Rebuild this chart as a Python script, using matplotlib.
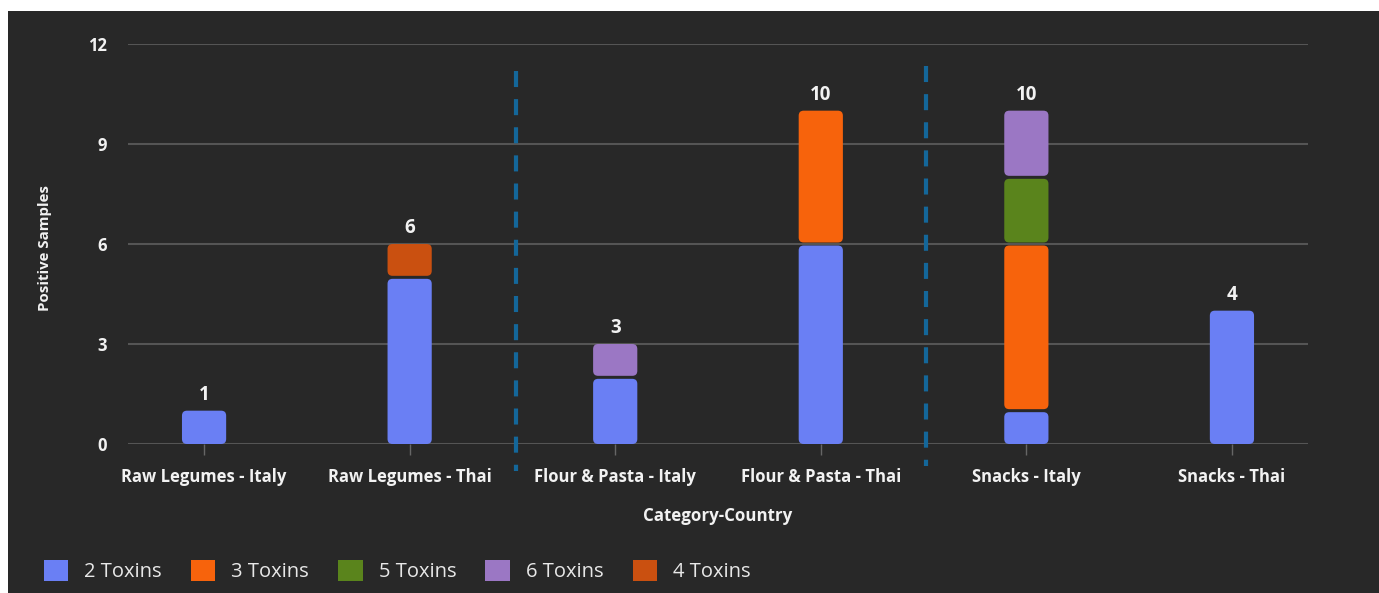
import matplotlib
matplotlib.use("Agg")
import matplotlib.pyplot as plt
from matplotlib.patches import FancyBboxPatch, Rectangle, Patch
import numpy as np

# ---- data ----
categories = ["Raw Legumes - Italy", "Raw Legumes - Thai", "Flour & Pasta - Italy",
              "Flour & Pasta - Thai", "Snacks - Italy", "Snacks - Thai"]
series_names = ["2 Toxins", "3 Toxins", "5 Toxins", "6 Toxins", "4 Toxins"]
two_toxins = [1, 5, 2, 6, 1, 4]
three_toxins = [0, 0, 0, 4, 5, 0]
five_toxins = [0, 0, 0, 0, 2, 0]
six_toxins = [0, 0, 1, 0, 2, 0]
four_toxins = [0, 1, 0, 0, 0, 0]
series_values = [two_toxins, three_toxins, five_toxins, six_toxins, four_toxins]
series_colors = ["#6a7ff4", "#f7630c", "#5a841c", "#9b77c4", "#ca5010"]
y_ticks = [0, 3, 6, 9, 12]

# ---- styling ----
BG = "#282828"
TEXT = "#f2f2f2"
GRID = "#555555"
FONT = ["Open Sans", "DejaVu Sans"]
plt.rcParams["font.family"] = FONT

W, H = 1379, 593
fig = plt.figure(figsize=(W / 100, H / 100), dpi=100)
fig.patch.set_facecolor("white")
fig.add_artist(Rectangle((8 / W, 0), 1 - 8 / W, (H - 11) / H,
                         transform=fig.transFigure, facecolor=BG,
                         edgecolor="none", zorder=-10))

ax_l, ax_r, ax_t, ax_b = 128, 1308, 44, 444
ax = fig.add_axes([ax_l / W, (H - ax_b) / H, (ax_r - ax_l) / W, (ax_b - ax_t) / H])
ax.set_facecolor(BG)

x = np.arange(len(categories))
xlim = (-0.37, len(categories) - 1 + 0.37)
ylim = (0, 12)
ax.set_xlim(*xlim)
ax.set_ylim(*ylim)

# data units per pixel, used to keep corner rounding circular
ux = (xlim[1] - xlim[0]) / (ax_r - ax_l)
uy = (ylim[1] - ylim[0]) / (ax_b - ax_t)
radius = 5 * ux
aspect = uy / ux
gap = 3 * uy
bar_w = 0.215

totals = np.sum(np.array(series_values), axis=0)
bottom = np.zeros(len(categories))
for name, vals, col in zip(series_names, series_values, series_colors):
    vals = np.array(vals, dtype=float)
    bars = ax.bar(x, vals, bottom=bottom, width=bar_w, color=col, label=name)
    for rect, v, b, tot in zip(bars, vals, bottom, totals):
        rect.set_visible(False)
        if v <= 0:
            continue
        y0 = rect.get_y() + (gap / 2 if b > 0 else 0)
        y1 = rect.get_y() + rect.get_height() - (gap / 2 if b + v < tot else 0)
        ax.add_patch(FancyBboxPatch(
            (rect.get_x(), y0), rect.get_width(), y1 - y0,
            boxstyle=f"round,pad=0,rounding_size={radius}",
            mutation_aspect=aspect, facecolor=col, edgecolor="none", zorder=3))
    bottom = bottom + vals

for xi, tot in zip(x, totals):
    ax.annotate(f"{tot:g}", (xi, tot), xytext=(0, 8), textcoords="offset points",
                ha="center", va="baseline", color=TEXT, fontsize=13.5,
                fontweight="bold")

# group dividers, dash pattern starting from the top end
xa = ax.get_xaxis_transform()
for xd, y_top, y_bot in [(1.518, 71, 471), (3.513, 66, 466)]:
    ax.plot([xd, xd], [(ax_b - y_top) / (ax_b - ax_t), (ax_b - y_bot) / (ax_b - ax_t)],
            transform=xa, color="#14679a", lw=3, linestyle=(0, (3.85, 2.9)),
            solid_capstyle="butt", clip_on=False, zorder=4)

ax.set_yticks(y_ticks)
ax.yaxis.grid(True, color=GRID, lw=1.5)
ax.set_axisbelow(True)
for s in ax.spines.values():
    s.set_visible(False)

ax.set_xticks(x)
ax.set_xticklabels(categories)
ax.tick_params(axis="x", length=8, width=1, color="#666666", pad=9,
               labelsize=12, labelcolor=TEXT)
ax.tick_params(axis="y", length=0, pad=15, labelsize=12, labelcolor=TEXT)
for lab in ax.get_xticklabels() + ax.get_yticklabels():
    lab.set_fontweight("bold")

ax.set_xlabel("Category-Country", color=TEXT, fontsize=12.2, fontweight="bold",
              va="center")
ax.xaxis.set_label_coords(0.5, (ax_b - 516) / (ax_b - ax_t))
ax.set_ylabel("Positive Samples", color=TEXT, fontsize=10.8, fontweight="bold",
              va="center")
ax.yaxis.set_label_coords((45 - ax_l) / (ax_r - ax_l), (ax_b - 248) / (ax_b - ax_t))

handles = [Patch(facecolor=c, edgecolor="none", label=n)
           for n, c in zip(series_names, series_colors)]
leg = fig.legend(handles=handles, loc="center left", ncol=5,
                 bbox_to_anchor=(44 / W, (H - 571) / H), frameon=False,
                 borderpad=0, borderaxespad=0,
                 fontsize=14.5, labelcolor="#e8e8e8", handlelength=1.2,
                 handleheight=1.2, handletextpad=0.8, columnspacing=1.45)

fig.savefig("out.png", dpi=100, facecolor=fig.get_facecolor())
